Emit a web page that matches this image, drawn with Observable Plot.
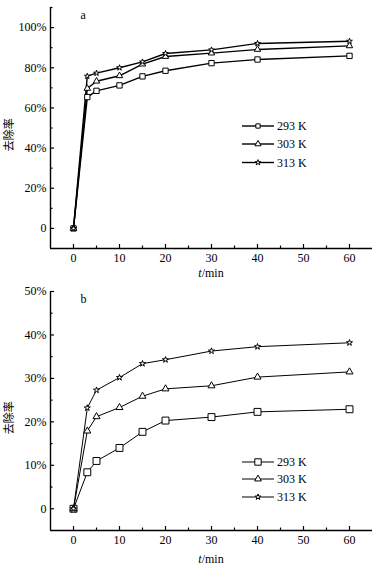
<!DOCTYPE html>
<html><head><meta charset="utf-8">
<script src="https://cdn.jsdelivr.net/npm/d3@7"></script>
<script src="https://cdn.jsdelivr.net/npm/@observablehq/plot@0.6"></script>
<style>body{margin:0;background:#fff}#c svg{display:block}#c svg text{font-family:"Liberation Serif","Times New Roman",serif}#c svg text.cjk{font-family:"Noto Sans CJK SC",sans-serif}</style>
</head><body><div id="c"></div>
<script>
const times = [0, 3, 5, 10, 15, 20, 30, 40, 60];
const seriesNames = ["293 K", "303 K", "313 K"];
const symbolNames = ["square", "triangle", "star"];
// panel a
const a293 = [0, 65.4, 68.5, 71.2, 75.7, 78.5, 82.3, 84.1, 85.9];
const a303 = [0, 69.7, 73.3, 76.0, 81.8, 85.6, 87.3, 89.1, 90.9];
const a313 = [0, 75.8, 77.3, 80.0, 82.9, 87.1, 88.9, 92.1, 93.2];
// panel b
const b293 = [0, 8.4, 11.0, 14.0, 17.7, 20.3, 21.1, 22.3, 22.9];
const b303 = [0, 17.9, 21.2, 23.3, 25.9, 27.6, 28.3, 30.3, 31.5];
const b313 = [0, 23.2, 27.3, 30.2, 33.4, 34.3, 36.3, 37.3, 38.2];
// axes
const xDomain = [-5, 65];
const xMajor = [0, 10, 20, 30, 40, 50, 60];
const xMinor = [5, 15, 25, 35, 45, 55];
const aYDomain = [-10, 110];
const aYMajor = [0, 20, 40, 60, 80, 100];
const aYMinor = [10, 30, 50, 70, 90, 110];
const bYDomain = [-5, 50];
const bYMajor = [0, 10, 20, 30, 40, 50];
const bYMinor = [5, 15, 25, 35, 45];
const panelLabels = ["a", "b"];
const yTitle = "去除率";

function rows(vals) {
  const out = [];
  vals.forEach((arr, i) => arr.forEach((v, j) => out.push({t: times[j], v, s: seriesNames[i]})));
  return out;
}

function panel({data, yDomain, yMajor, yMinor, label, height, marginTop, marginBottom, lineWidth, radii, legendY, legendRadii}) {
  const fmt = d => d === 0 ? "0" : d + "%";
  const dots = seriesNames.map((name, i) =>
    Plot.dot(data.filter(d => d.s === name), {x: "t", y: "v", symbol: symbolNames[i], r: radii[i], fill: "#fff", stroke: "#000", strokeWidth: 1}));
  const svg = Plot.plot({
    width: 385, height, marginLeft: 50, marginRight: 13, marginTop, marginBottom,
    style: {fontSize: "12px", color: "#000", background: "#fff"},
    x: {domain: xDomain},
    y: {domain: yDomain},
    marks: [
      Plot.axisX(xMajor, {tickSize: -4, text: null, label: null, strokeWidth: 1.2}),
      Plot.axisX(xMinor, {tickSize: -2.5, text: null, label: null, strokeWidth: 1.2}),
      Plot.axisX(xMajor, {tickSize: 0, tickPadding: 5, fontSize: 12, label: null, tickFormat: d => d}),
      Plot.axisY(yMajor, {tickSize: -4, text: null, label: null, strokeWidth: 1.2}),
      Plot.axisY(yMinor, {tickSize: -2.5, text: null, label: null, strokeWidth: 1.2}),
      Plot.axisY(yMajor, {tickSize: 0, tickPadding: 4, fontSize: 12, label: null, tickFormat: fmt}),
      Plot.ruleX([xDomain[0]], {stroke: "#000", strokeWidth: 1.4}),
      Plot.ruleY([yDomain[0]], {stroke: "#000", strokeWidth: 1.4}),
      Plot.line(data, {x: "t", y: "v", z: "s", stroke: "#000", strokeWidth: lineWidth}),
      ...dots,
      Plot.text([label], {frameAnchor: "top-left", dx: 30, dy: 3, fontSize: 12, text: d => d})
    ]
  });
  const s = d3.select(svg);
  // x title with italic t
  const xt = s.append("text").attr("x", 211).attr("y", height - 6)
    .attr("text-anchor", "middle").attr("font-size", 12).attr("fill", "#000");
  xt.append("tspan").attr("font-style", "italic").text("t");
  xt.append("tspan").text("/min");
  // y title
  const cy = marginTop + (height - marginTop - marginBottom) * 0.53;
  s.append("text").attr("class", "cjk").attr("transform", `translate(13,${cy}) rotate(-90)`)
    .attr("text-anchor", "middle").attr("font-size", 11).attr("fill", "#000").text(yTitle);
  // legend
  const g = s.append("g");
  seriesNames.forEach((name, i) => {
    const y = legendY[i];
    g.append("line").attr("x1", 242).attr("x2", 274).attr("y1", y).attr("y2", y)
      .attr("stroke", "#000").attr("stroke-width", lineWidth);
    const sym = [d3.symbolSquare, d3.symbolTriangle, d3.symbolStar][i];
    const rr = legendRadii[i];
    g.append("path").attr("d", d3.symbol(sym, Math.PI * rr * rr)())
      .attr("transform", `translate(258,${y})`).attr("fill", "#fff").attr("stroke", "#000");
    g.append("text").attr("x", 277).attr("y", y).attr("dy", "0.35em").attr("text-anchor", "start")
      .attr("font-size", 12).attr("fill", "#000").text(name);
  });
  return svg;
}

const c = document.getElementById("c");
c.append(panel({data: rows([a293, a303, a313]), yDomain: aYDomain, yMajor: aYMajor, yMinor: aYMinor,
  label: panelLabels[0], height: 283, marginTop: 7, marginBottom: 35, lineWidth: 1.4,
  radii: [3.0, 2.4, 1.8], legendY: [126, 144, 162.5], legendRadii: [2.4, 2.3, 1.7]}));
c.append(panel({data: rows([b293, b303, b313]), yDomain: bYDomain, yMajor: bYMajor, yMinor: bYMinor,
  label: panelLabels[1], height: 286, marginTop: 8, marginBottom: 39, lineWidth: 1,
  radii: [3.9, 2.6, 1.9], legendY: [179, 196, 214], legendRadii: [3.6, 2.5, 1.8]}));
</script>
</body></html>
